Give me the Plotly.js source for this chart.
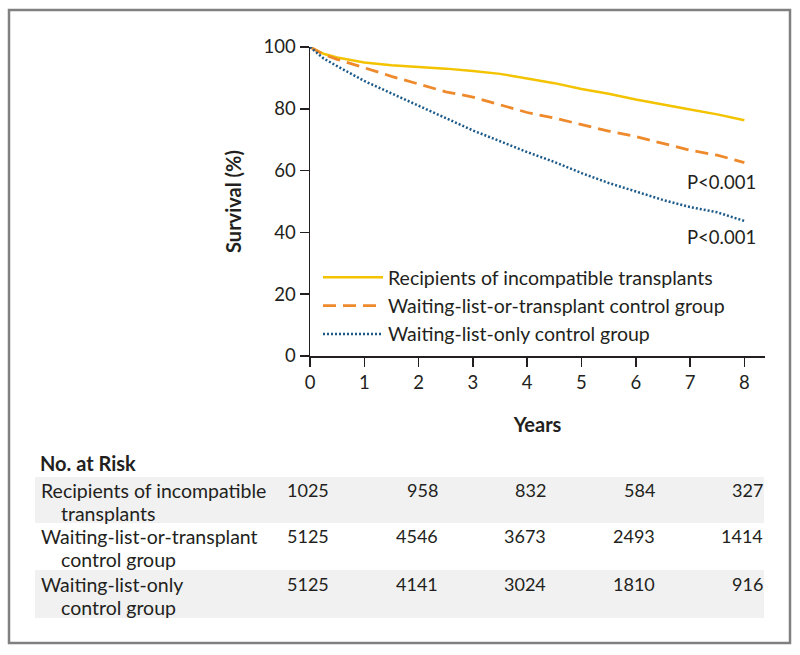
<!DOCTYPE html>
<html>
<head>
<meta charset="utf-8">
<script src="https://cdn.plot.ly/plotly-3.0.1.min.js"></script>
<style>html,body{margin:0;padding:0;background:#fff}#chart{width:800px;height:655px}</style>
</head>
<body>
<div id="chart"></div>
<script>
// ---- data ----
const years = [0,0.25,0.5,0.75,1,1.5,2,2.5,3,3.5,4,4.5,5,5.5,6,6.5,7,7.5,8];
const recipients = [100,97.8,96.6,95.8,95.0,94.1,93.6,93.0,92.2,91.3,89.8,88.3,86.4,84.9,83.0,81.3,79.8,78.2,76.3];
const listOrTransplant = [100,97.6,96.0,94.7,93.3,90.5,88.0,85.5,83.8,81.3,78.8,77.0,74.8,72.8,71.0,68.8,66.6,65.0,62.6];
const listOnly = [100,96.3,93.8,91.3,89.0,85.0,81.0,76.8,73.0,69.5,66.0,62.8,59.2,56.0,53.3,50.5,48.2,46.5,43.7];
const seriesNames = ["Recipients of incompatible transplants","Waiting-list-or-transplant control group","Waiting-list-only control group"];
const riskYears = [0,2,4,6,8];
const riskRecipients = [1025,958,832,584,327];
const riskListOrTransplant = [5125,4546,3673,2493,1414];
const riskListOnly = [5125,4141,3024,1810,916];
const riskLabels = [["Recipients of incompatible","transplants"],["Waiting-list-or-transplant","control group"],["Waiting-list-only","control group"]];
const pValues = [{x:7.57,y:56.4,text:"P<0.001"},{x:7.57,y:38.6,text:"P<0.001"}];

// ---- helpers (pixel -> paper) ----
const W=800,H=655;
const px = v => v/W;
const py = v => 1 - v/H;
const FONT = "Lato, 'Open Sans', sans-serif";
const txt = "#231f20";

const traces = [
  {x:years,y:recipients,name:seriesNames[0],mode:"lines",line:{color:"#F3C300",width:2.5},cliponaxis:false},
  {x:years,y:listOrTransplant,name:seriesNames[1],mode:"lines",line:{color:"#EE8A2C",width:2.8,dash:"13px,7px"},cliponaxis:false},
  {x:years,y:listOnly,name:seriesNames[2],mode:"lines",line:{color:"#1C5A8A",width:2.5,dash:"2px,2px"},cliponaxis:false}
];

const annotations = [];
pValues.forEach(p=>annotations.push({x:p.x,y:p.y,xref:"x",yref:"y",text:p.text,showarrow:false,font:{family:FONT,size:18.5,color:txt}}));
annotations.push({x:px(38),y:py(463),xref:"paper",yref:"paper",xanchor:"left",yanchor:"middle",text:"<b>No. at Risk</b>",showarrow:false,font:{family:FONT,size:20,color:txt}});
const rowY = [490,536,584];
const risks = [riskRecipients,riskListOrTransplant,riskListOnly];
riskLabels.forEach((lab,i)=>{
  annotations.push({x:px(39),y:py(rowY[i]),xref:"paper",yref:"paper",xanchor:"left",yanchor:"middle",text:lab[0],showarrow:false,font:{family:FONT,size:19.5,color:txt}});
  annotations.push({x:px(59),y:py(rowY[i]+23),xref:"paper",yref:"paper",xanchor:"left",yanchor:"middle",text:lab[1],showarrow:false,font:{family:FONT,size:19.5,color:txt}});
  riskYears.forEach((yr,j)=>{
    annotations.push({x:yr,y:py(rowY[i]),xref:"x",yref:"paper",xanchor:"right",yanchor:"middle",xshift:21,text:String(risks[i][j]),showarrow:false,font:{family:FONT,size:18,color:txt}});
  });
});

const shapes = [
  {type:"rect",xref:"paper",yref:"paper",x0:px(9),x1:px(790),y0:py(643),y1:py(10),line:{color:"#808080",width:2.5},fillcolor:"rgba(0,0,0,0)",layer:"below"},
  {type:"rect",xref:"paper",yref:"paper",x0:px(35),x1:px(764),y0:py(523),y1:py(477),line:{width:0},fillcolor:"#f1f1f1",layer:"below"},
  {type:"rect",xref:"paper",yref:"paper",x0:px(35),x1:px(764),y0:py(618),y1:py(570),line:{width:0},fillcolor:"#f1f1f1",layer:"below"}
];

const layout = {
  width:W,height:H,
  margin:{l:0,r:0,t:0,b:0},
  paper_bgcolor:"#fff",plot_bgcolor:"rgba(0,0,0,0)",
  font:{family:FONT,size:18,color:txt},
  showlegend:true,
  legend:{x:px(318),y:py(258),xanchor:"left",yanchor:"top",bgcolor:"rgba(0,0,0,0)",font:{family:FONT,size:19.5,color:txt},tracegroupgap:0,itemwidth:60},
  xaxis:{domain:[px(310),px(765)],range:[0,8.38],tickvals:[0,1,2,3,4,5,6,7,8],ticks:"outside",ticklen:9,tickwidth:1.5,tickcolor:"#231f20",
    showline:true,linecolor:"#231f20",linewidth:1.5,showgrid:false,zeroline:false,tickfont:{family:FONT,size:18.5,color:txt},
    title:{text:"<b>Years</b>",font:{family:FONT,size:20,color:txt},standoff:26}},
  yaxis:{domain:[py(356),py(47)],range:[0,100],tickvals:[0,20,40,60,80,100],ticks:"outside",ticklen:9,tickwidth:1.5,tickcolor:"#231f20",
    showline:true,linecolor:"#231f20",linewidth:1.5,showgrid:false,zeroline:false,tickfont:{family:FONT,size:18.5,color:txt},
    title:{text:"<b>Survival (%)</b>",font:{family:FONT,size:20,color:txt},standoff:16}},
  annotations:annotations,
  shapes:shapes
};

Plotly.newPlot("chart",traces,layout,{displayModeBar:false,staticPlot:true});
</script>
</body>
</html>
